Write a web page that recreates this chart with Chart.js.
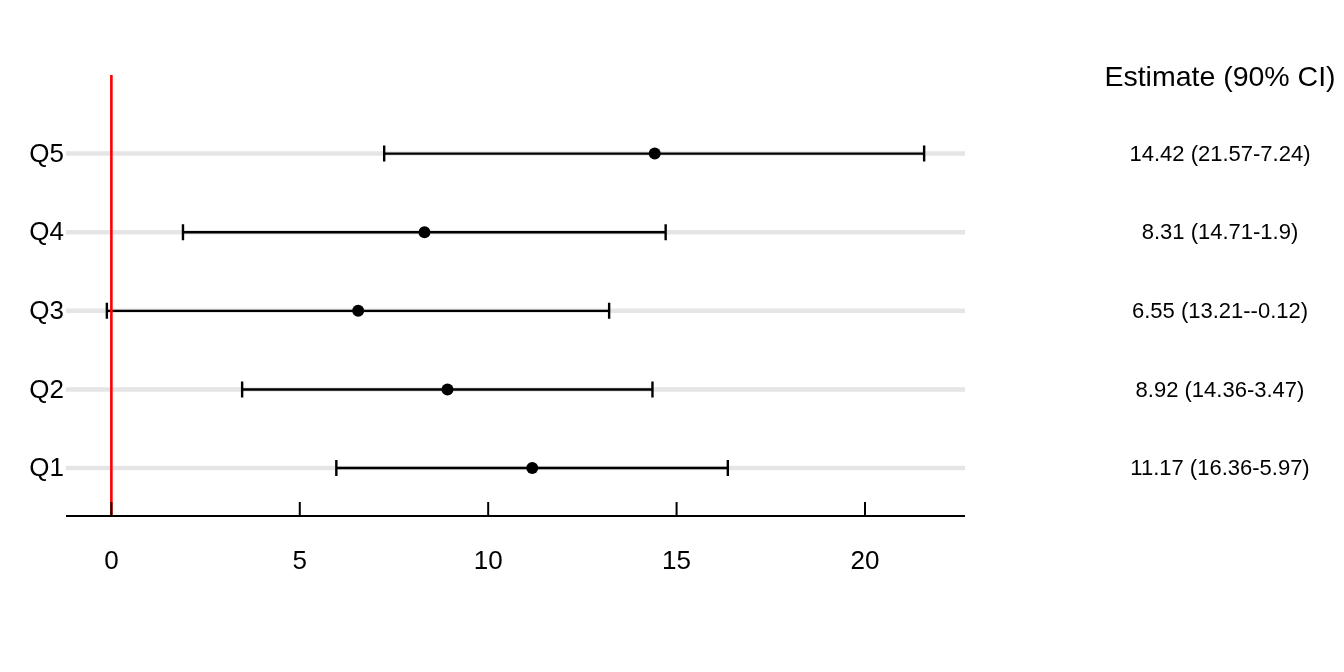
<!DOCTYPE html>
<html>
<head>
<meta charset="utf-8">
<script src="https://cdn.jsdelivr.net/npm/chart.js@4.4.1/dist/chart.umd.min.js"></script>
<style>
html,body{margin:0;padding:0;background:#fff;}
#wrap{width:1344px;height:672px;position:relative;}
</style>
</head>
<body>
<div id="wrap"><canvas id="c" width="1344" height="672"></canvas></div>
<script>
// Data (top to bottom in the picture: Q5 ... Q1)
const categories = ["Q1", "Q2", "Q3", "Q4", "Q5"];
const estimates = [11.17, 8.92, 6.55, 8.31, 14.42];
const upperCI  = [16.36, 14.36, 13.21, 14.71, 21.57];
const lowerCI  = [5.97, 3.47, -0.12, 1.9, 7.24];
const xTicks = [0, 5, 10, 15, 20];
const tableHeader = "Estimate (90% CI)";
const tableLabels = categories.map((c, i) => estimates[i] + " (" + upperCI[i] + "-" + lowerCI[i] + ")");
const refLine = 0;

const FONT = "'Liberation Sans', Arial, Helvetica, sans-serif";

const forestPlugin = {
  id: 'forest',
  beforeDatasetsDraw(chart) {
    const {ctx, chartArea, scales: {x, y}} = chart;
    ctx.save();
    // grey row guides
    ctx.strokeStyle = '#e5e5e5';
    ctx.lineWidth = 4.5;
    categories.forEach((c, i) => {
      const py = y.getPixelForValue(i + 1);
      ctx.beginPath();
      ctx.moveTo(chartArea.left, py);
      ctx.lineTo(chartArea.right, py);
      ctx.stroke();
    });
    // error bars
    ctx.strokeStyle = '#000';
    ctx.lineWidth = 2.4;
    categories.forEach((c, i) => {
      const py = y.getPixelForValue(i + 1);
      const xl = x.getPixelForValue(lowerCI[i]);
      const xu = x.getPixelForValue(upperCI[i]);
      ctx.beginPath();
      ctx.moveTo(xl, py); ctx.lineTo(xu, py);
      ctx.moveTo(xl, py - 8); ctx.lineTo(xl, py + 8);
      ctx.moveTo(xu, py - 8); ctx.lineTo(xu, py + 8);
      ctx.stroke();
    });
    // red reference line
    const rx = x.getPixelForValue(refLine);
    ctx.strokeStyle = '#ff0000';
    ctx.lineWidth = 2.6;
    ctx.beginPath();
    ctx.moveTo(rx, chartArea.top);
    ctx.lineTo(rx, chartArea.bottom);
    ctx.stroke();
    ctx.restore();
  },
  afterDatasetsDraw(chart) {
    const {ctx, chartArea, scales: {x, y}} = chart;
    ctx.save();
    // x axis line and inward ticks
    ctx.strokeStyle = '#000';
    ctx.lineWidth = 2;
    ctx.beginPath();
    ctx.moveTo(chartArea.left, chartArea.bottom);
    ctx.lineTo(chartArea.right, chartArea.bottom);
    ctx.stroke();
    xTicks.forEach(t => {
      const px = x.getPixelForValue(t);
      ctx.beginPath();
      ctx.moveTo(px, chartArea.bottom);
      ctx.lineTo(px, chartArea.bottom - 14);
      ctx.stroke();
    });
    // category labels
    ctx.fillStyle = '#000';
    ctx.font = '26px ' + FONT;
    ctx.textAlign = 'right';
    ctx.textBaseline = 'middle';
    categories.forEach((c, i) => {
      ctx.fillText(c, chartArea.left - 2, y.getPixelForValue(i + 1) + 1);
    });
    // table on the right
    const tx = 1220;
    ctx.textAlign = 'center';
    ctx.font = '28.5px ' + FONT;
    ctx.fillText(tableHeader, tx, y.getPixelForValue(6) + 3);
    ctx.font = '22px ' + FONT;
    tableLabels.forEach((t, i) => {
      ctx.fillText(t, tx, y.getPixelForValue(i + 1) + 1);
    });
    ctx.restore();
  }
};

new Chart(document.getElementById('c'), {
  type: 'scatter',
  data: {
    datasets: [{
      data: estimates.map((v, i) => ({x: v, y: i + 1})),
      backgroundColor: '#000',
      borderColor: '#000',
      pointRadius: 6,
      pointHoverRadius: 6,
      borderWidth: 0
    }]
  },
  options: {
    responsive: false,
    animation: false,
    events: [],
    layout: {padding: {top: 75, left: 66, right: 379, bottom: 0}},
    plugins: {legend: {display: false}, tooltip: {enabled: false}},
    scales: {
      x: {
        type: 'linear',
        min: -1.2045,
        max: 22.6545,
        afterBuildTicks(scale) { scale.ticks = xTicks.map(v => ({value: v})); },
        afterFit(scale) { scale.height = 156; },
        grid: {display: false, drawTicks: false},
        border: {display: false},
        ticks: {
          color: '#000',
          padding: 30,
          font: {family: FONT, size: 26},
          maxRotation: 0
        }
      },
      y: {
        type: 'linear',
        min: 0.39,
        max: 6.0,
        display: false
      }
    }
  },
  plugins: [forestPlugin]
});
</script>
</body>
</html>
